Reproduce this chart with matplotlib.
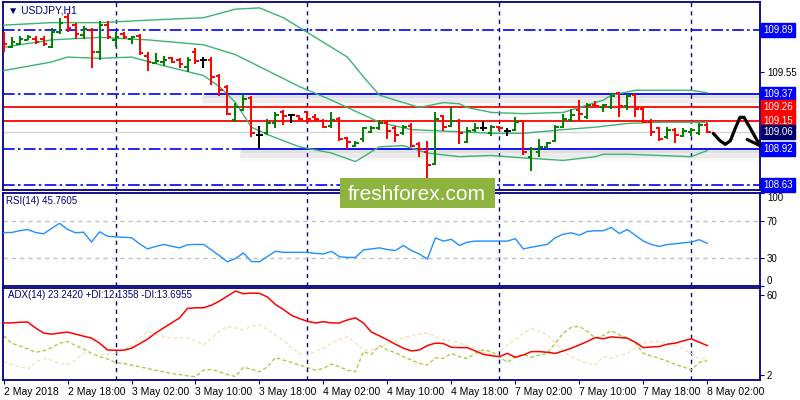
import matplotlib
matplotlib.use('Agg')
import matplotlib.pyplot as plt
import matplotlib.patheffects as pe
from matplotlib.patches import Rectangle
from matplotlib.transforms import blended_transform_factory
import numpy as np

plt.rcParams['font.family'] = ['Liberation Sans', 'DejaVu Sans']

# USDJPY H1, 2 May 10:00 .. 8 May 02:00 (89 bars)
opens = [109.80, 109.75, 109.78, 109.81, 109.82, 109.82, 109.75, 109.87, 110.00, 109.93,
         109.85, 109.89, 109.71, 109.93, 109.81, 109.86, 109.82, 109.84, 109.68, 109.62,
         109.63, 109.66, 109.65, 109.59, 109.71, 109.65, 109.65, 109.52, 109.43, 109.16,
         109.24, 109.34, 109.04, 109.05, 109.13, 109.22, 109.20, 109.19, 109.22, 109.18,
         109.15, 109.11, 109.17, 109.01, 108.95, 109.00, 109.06, 109.09, 109.13, 109.09,
         109.05, 109.11, 108.96, 108.90, 108.80, 109.19, 109.11, 109.15, 108.98, 109.08,
         109.09, 109.05, 109.10, 109.07, 109.08, 109.15, 108.86, 108.90, 108.94, 108.99,
         109.10, 109.16, 109.24, 109.18, 109.28, 109.26, 109.26, 109.38, 109.27, 109.36,
         109.25, 109.14, 109.09, 109.02, 109.08, 109.03, 109.06, 109.05, 109.12]
highs = [109.87, 109.83, 109.84, 109.85, 109.84, 109.84, 109.91, 109.99, 110.03, 109.95,
         109.92, 109.91, 109.96, 109.96, 109.87, 109.87, 109.84, 109.86, 109.71, 109.70,
         109.68, 109.67, 109.66, 109.67, 109.74, 109.67, 109.67, 109.53, 109.44, 109.30,
         109.37, 109.35, 109.11, 109.17, 109.22, 109.24, 109.21, 109.20, 109.23, 109.21,
         109.17, 109.22, 109.18, 109.02, 108.99, 109.10, 109.11, 109.15, 109.15, 109.11,
         109.12, 109.13, 108.98, 108.99, 109.22, 109.20, 109.26, 109.17, 109.10, 109.13,
         109.15, 109.12, 109.11, 109.09, 109.18, 109.16, 108.94, 109.00, 108.98, 109.12,
         109.21, 109.25, 109.32, 109.30, 109.31, 109.29, 109.38, 109.39, 109.37, 109.37,
         109.26, 109.17, 109.10, 109.10, 109.09, 109.09, 109.09, 109.13, 109.13]
lows = [109.71, 109.74, 109.77, 109.81, 109.78, 109.76, 109.74, 109.86, 109.87, 109.82,
        109.82, 109.58, 109.65, 109.82, 109.75, 109.82, 109.78, 109.69, 109.56, 109.61,
        109.60, 109.62, 109.58, 109.55, 109.61, 109.58, 109.44, 109.35, 109.20, 109.14,
        109.23, 109.02, 108.92, 109.04, 109.09, 109.12, 109.13, 109.16, 109.13, 109.15,
        109.09, 109.09, 108.99, 108.92, 108.94, 108.98, 109.05, 109.08, 109.00, 108.98,
        109.04, 108.94, 108.86, 108.67, 108.79, 109.07, 109.10, 108.96, 108.97, 109.06,
        109.07, 109.03, 109.07, 109.03, 109.07, 108.87, 108.74, 108.86, 108.92, 108.98,
        109.09, 109.14, 109.15, 109.17, 109.26, 109.22, 109.25, 109.18, 109.24, 109.18,
        109.13, 109.03, 108.99, 109.00, 108.97, 109.02, 109.03, 109.04, 109.05]
closes = [109.78, 109.79, 109.82, 109.83, 109.79, 109.78, 109.87, 109.95, 109.91, 109.86,
          109.90, 109.71, 109.93, 109.83, 109.83, 109.83, 109.83, 109.70, 109.63, 109.64,
          109.65, 109.63, 109.61, 109.65, 109.64, 109.65, 109.51, 109.40, 109.21, 109.26,
          109.33, 109.05, 109.04, 109.13, 109.20, 109.19, 109.20, 109.17, 109.17, 109.17,
          109.10, 109.16, 109.00, 108.98, 108.97, 109.09, 109.09, 109.13, 109.07, 109.04,
          109.10, 108.95, 108.92, 108.79, 109.17, 109.10, 109.15, 109.05, 109.07, 109.09,
          109.09, 109.10, 109.09, 109.07, 109.14, 108.90, 108.92, 108.94, 108.97, 109.10,
          109.17, 109.20, 109.21, 109.28, 109.27, 109.28, 109.35, 109.27, 109.35, 109.25,
          109.14, 109.06, 109.00, 109.08, 109.04, 109.07, 109.08, 109.12, 109.06]

# Bollinger bands, read at some bars
upper_idx = [0, 6, 12, 18, 25, 29, 32, 35, 39, 43, 45, 47, 50, 52, 55, 57, 58, 61, 65, 70,
             72, 75, 76, 79, 82, 86, 88]
upper = [109.93, 109.95, 109.95, 109.97, 109.99, 110.06, 110.07, 109.99, 109.83, 109.67,
         109.51, 109.36, 109.30, 109.26, 109.30, 109.29, 109.26, 109.22, 109.21, 109.22,
         109.26, 109.32, 109.36, 109.40, 109.40, 109.40, 109.38]
middle_idx = [0, 6, 12, 18, 25, 29, 33, 37, 41, 44, 47, 51, 58, 61, 65, 70, 74, 78, 82, 88]
middle = [109.75, 109.81, 109.83, 109.81, 109.77, 109.69, 109.56, 109.43, 109.32, 109.23,
          109.14, 109.08, 109.06, 109.05, 109.05, 109.08, 109.10, 109.13, 109.14, 109.14]
lower_idx = [0, 6, 8, 12, 16, 20, 25, 27, 29, 31, 33, 37, 41, 44, 45, 47, 50, 53, 57, 61,
             65, 70, 74, 75, 78, 82, 86, 88]
lower = [109.56, 109.63, 109.67, 109.66, 109.67, 109.60, 109.52, 109.43, 109.30, 109.10,
         109.04, 108.94, 108.89, 108.82, 108.86, 108.94, 108.95, 108.89, 108.86, 108.87,
         108.85, 108.83, 108.86, 108.88, 108.88, 108.87, 108.86, 108.91]

rsi = [57.5, 57.5, 59.4, 60.8, 57.5, 56.1, 61.9, 67.4, 60.8, 57.2,
       57.9, 47.2, 58.3, 53.5, 52.8, 52.4, 52.0, 45.4, 39.9, 42.5,
       44.7, 42.8, 41.0, 44.3, 44.7, 44.7, 38.8, 32.6, 26.0, 29.6,
       35.5, 26.3, 26.0, 31.8, 37.3, 36.2, 36.2, 36.2, 36.2, 35.1,
       34.4, 37.3, 31.5, 30.7, 30.7, 38.8, 39.9, 41.0, 39.2, 38.1,
       43.6, 38.1, 34.4, 28.9, 51.7, 48.3, 50.2, 43.6, 47.2, 48.3,
       48.3, 48.3, 48.3, 48.3, 50.9, 39.9, 41.7, 43.2, 44.7, 52.0,
       55.7, 57.2, 54.6, 58.6, 59.4, 59.4, 63.0, 56.4, 60.8, 54.6,
       48.3, 44.7, 42.5, 44.7, 45.4, 46.5, 47.2, 49.8, 45.76]

adx = [39.8, 39.8, 40.3, 40.5, 36.1, 32.4, 31.6, 32.4, 33.1, 31.6,
       30.1, 28.7, 25.0, 20.0, 19.8, 19.8, 21.3, 24.5, 27.9, 32.4,
       36.1, 39.8, 43.5, 50.4, 50.9, 50.9, 52.8, 55.8, 59.5, 63.2,
       61.2, 61.7, 61.5, 58.8, 53.3, 49.6, 45.4, 43.0, 41.0, 39.8,
       40.7, 39.8, 39.8, 42.0, 43.5, 39.8, 33.1, 30.4, 27.4, 24.2,
       21.3, 19.3, 20.0, 23.2, 25.0, 24.7, 22.0, 21.7, 21.7, 19.3,
       16.8, 15.8, 15.1, 17.5, 14.6, 16.3, 18.8, 18.8, 18.3, 17.5,
       19.3, 21.3, 23.7, 26.2, 29.1, 28.2, 29.6, 29.1, 28.7, 25.7,
       21.7, 22.2, 22.5, 24.2, 25.0, 26.7, 28.2, 25.7, 23.24]
plus_di = [30.4, 25.0, 23.0, 20.8, 18.3, 19.3, 21.7, 25.0, 26.2, 23.2,
           20.8, 17.5, 15.1, 13.4, 10.9, 10.1, 8.9, 7.7, 6.4, 5.2,
           4.0, 2.7, 2.0, 1.0, 0.5, 5.2, 5.7, 4.0, 2.0, 0.5,
           7.4, 5.9, 4.0, 7.7, 14.6, 12.6, 10.9, 8.9, 7.2, 5.2,
           6.4, 9.7, 7.7, 5.2, 4.0, 18.8, 16.8, 23.2, 20.0, 18.0,
           15.1, 12.6, 10.1, 8.9, 14.3, 13.8, 17.5, 15.1, 13.8, 17.5,
           20.0, 18.8, 15.1, 10.9, 15.1, 16.8, 14.6, 16.3, 17.5, 25.0,
           32.4, 36.6, 37.3, 33.6, 28.7, 30.6, 34.1, 31.1, 28.7, 25.0,
           17.5, 15.8, 13.8, 11.9, 9.4, 7.7, 5.2, 10.9, 12.14]
minus_di = [11.4, 9.4, 7.9, 5.9, 10.9, 13.8, 12.6, 10.1, 9.4, 12.6,
            17.5, 17.5, 16.3, 16.8, 17.5, 20.0, 22.5, 28.7, 33.6, 31.6,
            29.9, 28.7, 28.7, 28.7, 26.7, 23.7, 28.7, 33.6, 37.3, 36.1,
            34.8, 37.3, 38.5, 34.8, 31.1, 26.7, 21.7, 17.5, 16.3, 18.8,
            21.3, 25.0, 27.4, 29.9, 25.0, 20.0, 20.0, 22.5, 24.2, 26.7,
            28.7, 30.6, 31.6, 32.4, 29.9, 27.4, 26.7, 25.0, 23.2, 21.3,
            18.3, 16.8, 18.3, 23.7, 27.4, 32.4, 35.6, 33.6, 31.1, 25.0,
            19.3, 15.1, 12.6, 10.1, 8.9, 15.1, 13.8, 15.8, 17.5, 21.3,
            25.0, 26.2, 26.2, 25.0, 23.2, 20.8, 17.5, 13.8, 13.70]

label_idx = [0, 8, 16, 24, 32, 40, 48, 56, 64, 72, 80, 88]
time_labels = ['2 May 2018', '2 May 18:00', '3 May 02:00', '3 May 10:00', '3 May 18:00',
               '4 May 02:00', '4 May 10:00', '4 May 18:00', '7 May 02:00', '7 May 10:00',
               '7 May 18:00', '8 May 02:00']
day_sep = [14, 38, 62, 86]  # 3 May, 4 May, 7 May, 8 May 00:00

# price scale ticks; the ones under the tags are left without text
price_ticks = [109.85, 109.55, 109.25, 108.95, 108.65]
price_tick_text = ['', '109.55', '', '', '']
# level, colour of price tag
tags = [(109.89, '#0000ff'), (109.37, '#0000ff'), (109.26, '#ff0000'), (109.15, '#ff0000'),
        (109.06, '#00006a'), (108.92, '#0000ff'), (108.63, '#0000ff')]

rsi_title = 'RSI(14) 45.7605'
adx_title = 'ADX(14) 23.2420 +DI:12.1358 -DI:13.6955'

# hand drawn forecast arrow
arrow_x = [88.75, 89.6, 90.25, 90.9, 91.5, 92.1, 92.6, 93.4, 94.25, 94.9]
arrow_y = [109.05, 108.99, 108.96, 108.99, 109.09, 109.18, 109.18, 109.09, 108.99, 108.94]
wing_x = [93.0, 94.9]
wing_y = [109.00, 108.94]

NAVY = '#000080'
DASHDOT = (0, (7, 2, 1.5, 2))
SEP = (0, (3, 3))

fig = plt.figure(figsize=(8, 4), dpi=100)
ax = fig.add_axes([0.004, 0.525, 0.946, 0.47])
ax_rsi = fig.add_axes([0.004, 0.285, 0.946, 0.2325])
ax_adx = fig.add_axes([0.004, 0.05, 0.946, 0.23])
xlim = (-0.05, 94.6)

for a in (ax, ax_rsi, ax_adx):
    a.set_xlim(*xlim)
    for s in a.spines.values():
        s.set_color(NAVY)
        s.set_linewidth(1.3)
    a.yaxis.tick_right()
    a.tick_params(axis='y', colors=NAVY, labelcolor='black', labelsize=7, length=3, pad=2)
    for d in day_sep:
        a.axvline(d, color=NAVY, lw=1, ls=SEP, zorder=1)

# main panel
ax.set_ylim(108.589, 110.118)
x = np.arange(len(opens))
o = np.array(opens)
c = np.array(closes)
cols = np.where(c > o, '#007f00', np.where(c < o, '#ff0000', 'black'))

ax.axhline(109.89, color='#0000ff', lw=1.2, ls=DASHDOT, zorder=2)
ax.axhline(108.63, color='#0000ff', lw=1.2, ls=DASHDOT, zorder=2)
ax.axhline(109.26, color='#ff0000', lw=1.3, zorder=2)
ax.axhline(109.15, color='#ff0000', lw=1.3, zorder=2)
ax.axhline(109.06, color='#d3d3d3', lw=1, zorder=2)
# soft grey glow under the drawn S/R lines
shadow = [pe.SimpleLineShadow(offset=(0, -1.5), shadow_color='#909090', alpha=0.18, linewidth=3),
          pe.SimpleLineShadow(offset=(0, -3.5), shadow_color='#909090', alpha=0.12, linewidth=5),
          pe.SimpleLineShadow(offset=(0, -5.5), shadow_color='#909090', alpha=0.06, linewidth=5),
          pe.Normal()]
for lvl, start in [(109.37, 25.2), (108.92, 30.0)]:
    ax.plot([xlim[0], start], [lvl, lvl], color='#0000ff', lw=1.2, ls=DASHDOT, zorder=2)
    ax.plot([start, xlim[1]], [lvl, lvl], color='#0000ff', lw=1.3, zorder=2,
            path_effects=shadow)

for idx, vals in [(upper_idx, upper), (middle_idx, middle), (lower_idx, lower)]:
    ax.plot(idx, vals, color='#3cb371', lw=1, zorder=3)

ax.vlines(x, lows, highs, colors=cols, lw=1.4, zorder=4)
ax.hlines(opens, x - 0.42, x, colors=cols, lw=1.4, zorder=4)
ax.hlines(closes, x, x + 0.42, colors=cols, lw=1.4, zorder=4)

ax.plot(arrow_x, arrow_y, color='black', lw=2.3, solid_capstyle='round',
        solid_joinstyle='round', clip_on=False, zorder=6)
ax.plot(wing_x, wing_y, color='black', lw=2.3, solid_capstyle='round', clip_on=False, zorder=6)

ax.set_yticks(price_ticks)
ax.set_yticklabels(price_tick_text)
ax.set_xticks([])
trans = blended_transform_factory(ax.transAxes, ax.transData)
for lvl, col in tags:
    ax.text(1.004, lvl, f'{lvl:.2f}', transform=trans, color='white', fontsize=7,
            va='center', ha='left', clip_on=False, zorder=10,
            bbox=dict(boxstyle='square,pad=0.22', fc=col, ec=col))
ax.text(0.007, 0.955, '\u25bc USDJPY,H1', transform=ax.transAxes, color=NAVY,
        fontsize=7.5, va='center', ha='left')

# RSI panel
ax_rsi.set_ylim(0, 100)
ax_rsi.axhline(70, color='#c0c0c0', lw=1, ls=SEP)
ax_rsi.axhline(30, color='#c0c0c0', lw=1, ls=SEP)
ax_rsi.plot(x, rsi, color='#1e90ff', lw=1, zorder=3)
ax_rsi.set_yticks([0, 30, 70, 100])
ax_rsi.set_yticklabels(['0', '30', '70', '100'])
tl = ax_rsi.get_yticklabels()
tl[0].set_va('bottom')
tl[-1].set_va('top')
ax_rsi.set_xticks([])
ax_rsi.text(0.004, 0.915, rsi_title, transform=ax_rsi.transAxes,
            color=NAVY, fontsize=7, va='center', ha='left')

# ADX panel
ax_adx.set_ylim(-2, 65.4)
ax_adx.plot(x, plus_di, color='#9acd32', lw=0.9, ls=(0, (3, 2)), zorder=2)
ax_adx.plot(x, minus_di, color='#f5deb3', lw=0.9, ls=(0, (3, 2)), zorder=2)
ax_adx.plot(x, adx, color='#ff0000', lw=1.1, zorder=3)
ax_adx.set_yticks([2, 60])
ax_adx.set_yticklabels(['2', '60'])
ax_adx.text(0.0066, 0.924, adx_title, transform=ax_adx.transAxes, color=NAVY,
            fontsize=7, va='center', ha='left')
ax_adx.set_xticks(label_idx)
ax_adx.set_xticklabels(time_labels, ha='left', fontsize=7.5)
ax_adx.tick_params(axis='x', colors=NAVY, labelcolor='black', length=3, pad=2)

# watermark
fig.add_artist(Rectangle((340 / 800, 1 - 208 / 400), 155 / 800, 30 / 400,
                         transform=fig.transFigure, fc='#8db43e', ec='none', zorder=20))
fig.text(417 / 800, 1 - 194 / 400, 'freshforex.com', color='white', fontsize=15,
         ha='center', va='center', zorder=21)

fig.savefig('out.png', dpi=100, facecolor='white')
